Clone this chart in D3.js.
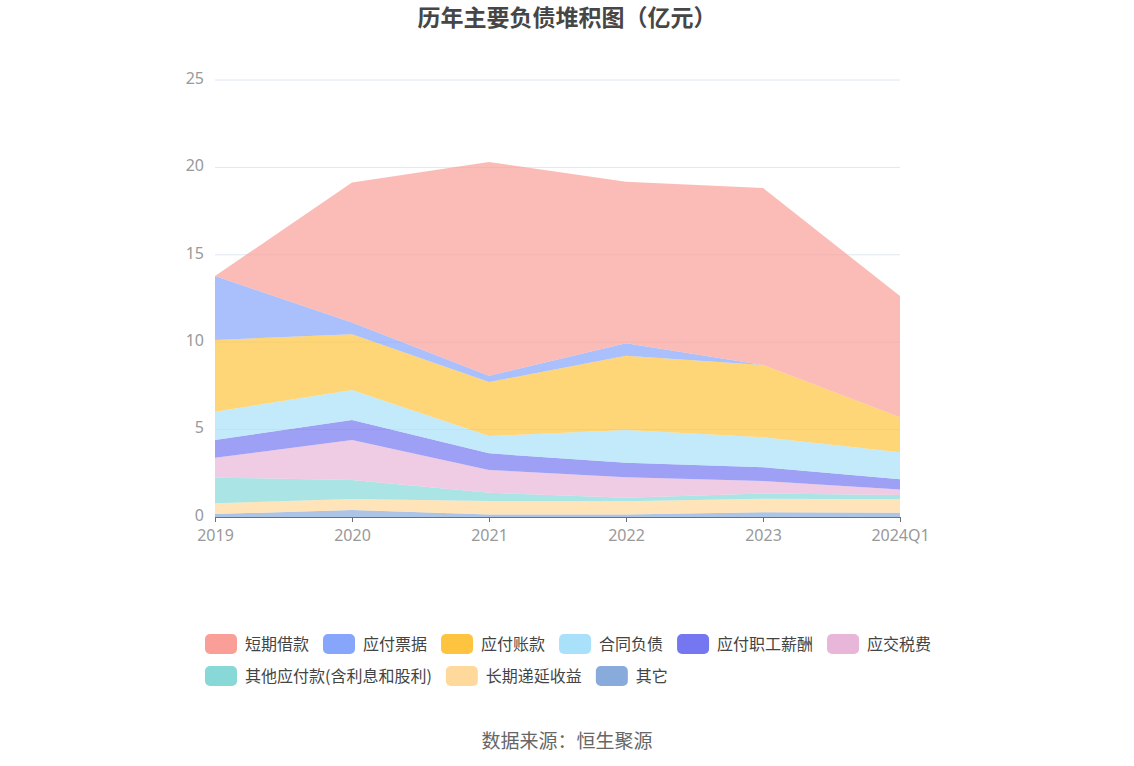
<!DOCTYPE html>
<html>
<head>
<meta charset="utf-8">
<script src="https://cdn.jsdelivr.net/npm/d3@7"></script>
<style>
  body { margin: 0; background: #fff; }
  svg { font-family: "Noto Sans CJK SC", "Noto Sans", sans-serif; }
</style>
</head>
<body>
<div id="chart"></div>
<script>
// x categories
const years = ["2019", "2020", "2021", "2022", "2023", "2024Q1"]

// series (亿元), bottom of the stack first
const qita = [0.17, 0.40, 0.15, 0.15, 0.27, 0.25]
const changqiDiyan = [0.61, 0.63, 0.77, 0.75, 0.78, 0.76]
const qitaYingfu = [1.47, 1.09, 0.47, 0.20, 0.30, 0.25]
const yingjiaoShuifei = [1.14, 2.28, 1.30, 1.17, 0.71, 0.32]
const zhigongXinchou = [1.01, 1.15, 0.95, 0.84, 0.78, 0.58]
const hetongFuzhai = [1.62, 1.72, 0.99, 1.87, 1.72, 1.54]
const yingfuZhangkuan = [4.11, 3.18, 3.09, 4.25, 4.14, 2.00]
const yingfuPiaoju = [3.66, 0.67, 0.36, 0.71, 0.00, 0.00]
const duanqiJiekuan = [0.00, 8.01, 12.23, 9.24, 10.12, 6.94]

const yTicks = [0, 5, 10, 15, 20, 25]

// legend order (top of stack first, as in the picture)
const series = [
    {name: "短期借款", values: duanqiJiekuan, color: "#fa9f98"},
    {name: "应付票据", values: yingfuPiaoju, color: "#86a5fb"},
    {name: "应付账款", values: yingfuZhangkuan, color: "#fec43f"},
    {name: "合同负债", values: hetongFuzhai, color: "#a9e1fa"},
    {name: "应付职工薪酬", values: zhigongXinchou, color: "#7577f1"},
    {name: "应交税费", values: yingjiaoShuifei, color: "#e8b6d8"},
    {name: "其他应付款(含利息和股利)", values: qitaYingfu, color: "#88d8d8"},
    {name: "长期递延收益", values: changqiDiyan, color: "#ffd99c"},
    {name: "其它", values: qita, color: "#89abdb"}
]

var W = 1134, H = 766
var margin = {top: 80, right: 234, bottom: 249, left: 215}
var width = W - margin.left - margin.right
var height = H - margin.top - margin.bottom

var svg = d3.select("#chart")
    .append("svg")
        .attr("width", W)
        .attr("height", H)

// title
svg.append("text")
    .attr("x", W / 2)
    .attr("y", 26)
    .attr("text-anchor", "middle")
    .style("font-size", "23px")
    .style("font-weight", "bold")
    .style("fill", "#464646")
    .text("历年主要负债堆积图（亿元）")

var g = svg.append("g")
    .attr("transform", `translate(${margin.left}, ${margin.top})`)

const x = d3.scalePoint()
    .domain(years)
    .range([0, width])

const y = d3.scaleLinear()
    .domain([0, 25])
    .range([height, 0])

// grid
g.append("g")
    .selectAll("line")
    .data(yTicks.slice(1))
    .join("line")
    .attr("x1", 0)
    .attr("x2", width)
    .attr("y1", d => y(d))
    .attr("y2", d => y(d))
    .style("stroke", "#e0e6f1")
    .style("stroke-width", 1)

// stack data
const table = years.map((yr, i) => {
    let row = {year: yr}
    series.forEach(s => { row[s.name] = s.values[i] })
    return row
})
const stackKeys = series.map(s => s.name).reverse()
const stacked = d3.stack().keys(stackKeys)(table)
const colorOf = {}
series.forEach(s => { colorOf[s.name] = s.color })

const area = d3.area()
    .x(d => x(d.data.year))
    .y0(d => y(d[0]))
    .y1(d => y(d[1]))

g.append("g")
    .selectAll("path")
    .data(stacked)
    .join("path")
    .attr("d", area)
    .style("fill", d => colorOf[d.key])
    .style("opacity", 0.7)

// axes
const yAxis = g.append("g")
    .call(d3.axisLeft(y).tickValues(yTicks).tickSize(0).tickPadding(11))
yAxis.select(".domain").remove()
yAxis.selectAll("text")
    .attr("dy", "0.2em")
    .style("font-size", "16px")
    .style("fill", "#999")
    .style("font-family", "'Noto Sans', sans-serif")

const xAxis = g.append("g")
    .attr("transform", `translate(0, ${height})`)
    .call(d3.axisBottom(x).tickSize(5).tickSizeOuter(0).tickPadding(8))
xAxis.select(".domain").style("stroke", "#6e7079")
xAxis.selectAll(".tick line").style("stroke", "#6e7079")
xAxis.selectAll("text")
    .style("font-size", "16px")
    .style("fill", "#999")
    .style("font-family", "'Noto Sans', sans-serif")

// legend
var legend = svg.append("g")
var rows = [series.slice(0, 6), series.slice(6)]
rows.forEach((row, r) => {
    let lx = 205
    let ly = 634 + r * 32
    row.forEach(s => {
        var item = legend.append("g").attr("transform", `translate(${lx}, ${ly})`)
        item.append("rect")
            .attr("width", 32)
            .attr("height", 20)
            .attr("rx", 5)
            .attr("ry", 5)
            .style("fill", s.color)
        var t = item.append("text")
            .attr("x", 40)
            .attr("y", 16)
            .style("font-size", "16px")
            .style("fill", "#444")
            .text(s.name)
        lx += 40 + t.node().getComputedTextLength() + 14
    })
})

// source
svg.append("text")
    .attr("x", W / 2)
    .attr("y", 748)
    .attr("text-anchor", "middle")
    .style("font-size", "19px")
    .style("fill", "#666")
    .text("数据来源：恒生聚源")
</script>
</body>
</html>
